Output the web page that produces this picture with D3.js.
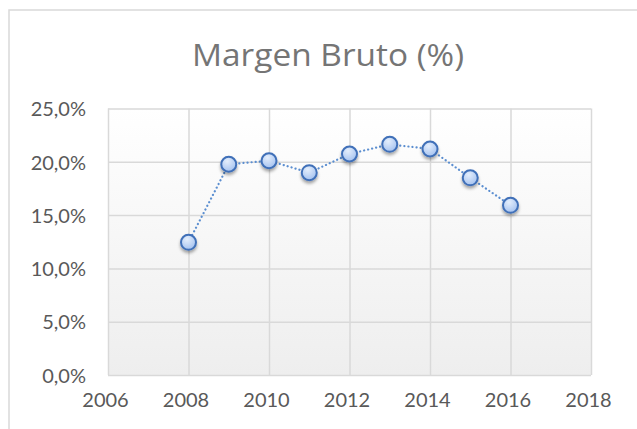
<!DOCTYPE html>
<html lang="es">
<head>
<meta charset="utf-8">
<script src="https://cdn.jsdelivr.net/npm/d3@7/dist/d3.min.js"></script>
<style>
    html, body { margin: 0; padding: 0; background: #ffffff; }
    .grid line { stroke: #d9d9d9; stroke-width: 1.5; }
    .grid path { display: none; }
    .tick-label text { font-family: Lato, "Open Sans", sans-serif; font-size: 20px; fill: #595959; }
</style>
</head>
<body>
<div id="chart"></div>
<script type="text/javascript">

    /* data */
    var years = [2008, 2009, 2010, 2011, 2012, 2013, 2014, 2015, 2016];
    var margenBruto = [12.45, 19.77, 20.10, 18.98, 20.73, 21.64, 21.20, 18.50, 15.92];
    var xTicks = [2006, 2008, 2010, 2012, 2014, 2016, 2018];
    var yTicks = [0, 5, 10, 15, 20, 25];
    var chartTitle = "Margen Bruto (%)";

    var svgWidth = 637;
    var svgHeight = 429;

    var svg = d3.select("#chart").append("svg")
            .attr("width", svgWidth)
            .attr("height", svgHeight);

    var margin = {top: 108.5, right: 46, bottom: 54, left: 108};
    var chartWidth = svgWidth - margin.left - margin.right;
    var chartHeight = svgHeight - margin.top - margin.bottom;

    var locale = d3.formatLocale({decimal: ",", thousands: ".", grouping: [3], currency: ["", "€"]});
    var fmt = locale.format(".1f");

    var x = d3.scaleLinear().domain([2006, 2018]).range([0, chartWidth]);
    var y = d3.scaleLinear().domain([0, 25]).range([chartHeight, 0]);

    var defs = svg.append("defs");

    var bg = defs.append("linearGradient").attr("id", "plotBg")
            .attr("x1", 0).attr("y1", 0).attr("x2", 0).attr("y2", 1);
    bg.append("stop").attr("offset", "0%").attr("stop-color", "#ffffff");
    bg.append("stop").attr("offset", "100%").attr("stop-color", "#eeeeee");

    var mk = defs.append("radialGradient").attr("id", "markerFill")
            .attr("cx", "40%").attr("cy", "30%").attr("r", "70%");
    mk.append("stop").attr("offset", "0%").attr("stop-color", "#e4eefc");
    mk.append("stop").attr("offset", "100%").attr("stop-color", "#a6c3f0");

    var sh = defs.append("filter").attr("id", "shadow")
            .attr("x", "-50%").attr("y", "-50%").attr("width", "200%").attr("height", "200%");
    sh.append("feDropShadow").attr("dx", 0).attr("dy", 2.5).attr("stdDeviation", 1.5)
            .attr("flood-color", "#000000").attr("flood-opacity", 0.35);

    /* chart border (Excel chart area, cropped at right/bottom) */
    svg.append("rect")
            .attr("x", 9).attr("y", 10)
            .attr("width", 700).attr("height", 500)
            .style("fill", "#ffffff")
            .style("stroke", "#d9d9d9")
            .style("stroke-width", 1.5);

    /* title */
    svg.append("text")
            .attr("x", 328)
            .attr("y", 65.5)
            .attr("text-anchor", "middle")
            .attr("textLength", 272)
            .attr("lengthAdjust", "spacingAndGlyphs")
            .style("font-family", "'Open Sans', Lato, sans-serif")
            .style("font-size", "31px")
            .style("fill", "#757575")
            .text(chartTitle);

    var g = svg.append("g")
            .attr("transform", "translate(" + margin.left + ", " + margin.top + ")");

    /* plot area */
    g.append("rect")
            .attr("width", chartWidth)
            .attr("height", chartHeight)
            .style("fill", "url(#plotBg)");

    /* grid */
    g.append("g")
            .attr("class", "grid")
            .call(d3.axisLeft(y).tickValues(yTicks).tickSize(-chartWidth).tickFormat(""));

    g.append("g")
            .attr("class", "grid")
            .attr("transform", "translate(0, " + chartHeight + ")")
            .call(d3.axisBottom(x).tickValues(xTicks).tickSize(chartHeight).tickFormat(""))
            .selectAll("line").attr("y2", -chartHeight);

    /* axis labels */
    var yAxis = g.append("g")
            .attr("class", "tick-label")
            .call(d3.axisLeft(y).tickValues(yTicks).tickSize(0).tickPadding(22)
                    .tickFormat(function(d) { return fmt(d) + "%"; }));
    yAxis.select(".domain").remove();
    yAxis.selectAll("text").attr("dy", "0.36em");

    var xAxis = g.append("g")
            .attr("class", "tick-label")
            .attr("transform", "translate(-3, " + chartHeight + ")")
            .call(d3.axisBottom(x).tickValues(xTicks).tickSize(0).tickPadding(18)
                    .tickFormat(function(d) { return d; }));
    xAxis.select(".domain").remove();
    xAxis.selectAll("text").attr("dy", "0.71em");

    /* line */
    var data = years.map(function(d, i) { return {year: d, value: margenBruto[i]}; });

    var line = d3.line()
            .x(function(d) { return x(d.year); })
            .y(function(d) { return y(d.value); });

    g.append("path")
            .datum(data)
            .attr("d", line)
            .style("fill", "none")
            .style("stroke", "#5b8ed0")
            .style("stroke-width", 2.2)
            .style("stroke-dasharray", "0.1,4")
            .style("stroke-linecap", "round");

    /* markers */
    g.selectAll("circle.dot")
            .data(data)
            .enter()
            .append("circle")
            .attr("class", "dot")
            .attr("cx", function(d) { return x(d.year); })
            .attr("cy", function(d) { return y(d.value); })
            .attr("r", 7.5)
            .attr("filter", "url(#shadow)")
            .style("fill", "url(#markerFill)")
            .style("stroke", "#3f6fb8")
            .style("stroke-width", 2);

</script>
</body>
</html>
